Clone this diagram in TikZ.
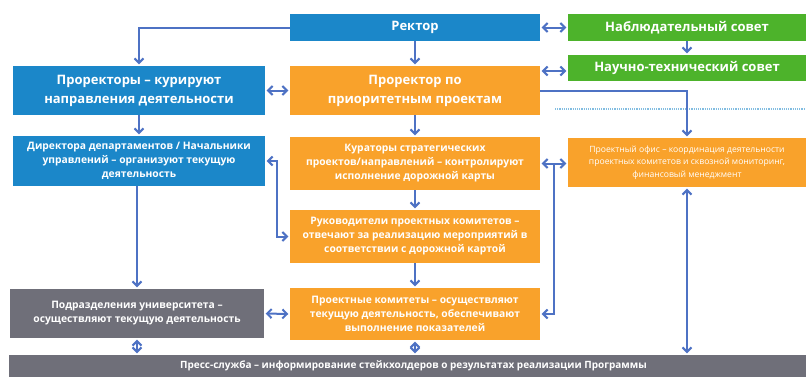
\documentclass[tikz,border=0pt]{standalone}
\usepackage{fontspec}
\setmainfont{Open Sans}
\usepackage{tikz}
\usetikzlibrary{arrows.meta,positioning,calc}

\definecolor{univblue}{HTML}{1B87C9}
\definecolor{univorange}{HTML}{F9A22B}
\definecolor{univgreen}{HTML}{4DB32B}
\definecolor{univgray}{HTML}{6F6F79}
\definecolor{linkblue}{HTML}{4E72C4}

\begin{document}
\begin{tikzpicture}[
  x=1pt, y=-1pt,
  box/.style={align=center, text=white, inner sep=2pt, font=\bfseries},
  bigtext/.style={font=\fontsize{13}{19}\selectfont\bfseries},
  smalltext/.style={font=\fontsize{10.3}{14}\selectfont\bfseries},
  bluebox/.style={box, fill=univblue},
  orangebox/.style={box, fill=univorange},
  greenbox/.style={box, fill=univgreen},
  graybox/.style={box, fill=univgray},
  link/.style={-{Straight Barb[length=4.5pt,width=9pt]}, line width=2pt, draw=linkblue, shorten >=1.5pt},
  twoway/.style={link, {Straight Barb[length=4.5pt,width=9pt]}-{Straight Barb[length=4.5pt,width=9pt]}, shorten <=1.5pt}
]
\useasboundingbox (0,0) rectangle (806,376);

% top row
\node[bluebox, bigtext, minimum width=250pt, minimum height=27pt] (rector) at (415,27.5) {Ректор};
\node[greenbox, bigtext, minimum width=238pt, minimum height=27pt] (supervis) at (687,27.5) {Наблюдательный совет};
\node[greenbox, bigtext, minimum width=238pt, minimum height=26pt] (scitech) at (687,68) {Научно-технический совет};

% second row
\node[bluebox, bigtext, minimum width=252pt, minimum height=49pt] (vicerect) at (139,90.5) {Проректоры – курируют\\направления деятельности};
\node[orangebox, bigtext, minimum width=250pt, minimum height=49pt] (vicepri) at (415,90.5) {Проректор по\\приоритетным проектам};

% third row
\node[bluebox, smalltext, minimum width=252pt, minimum height=50pt] (directors) at (139,161) {Директора департаментов / Начальники\\управлений – организуют текущую\\деятельность};
\node[orangebox, smalltext, minimum width=250pt, minimum height=53pt] (curators) at (415,163.5) {Кураторы стратегических\\проектов/направлений – контролируют\\исполнение дорожной карты};
\node[orangebox, font=\fontsize{8.6}{12.5}\selectfont, minimum width=238pt, minimum height=49pt] (office) at (687,162.5) {Проектный офис – координация деятельности\\проектных комитетов и сквозной мониторинг,\\финансовый менеджмент};

% lower rows
\node[orangebox, smalltext, minimum width=250pt, minimum height=53pt] (heads) at (415,236.5) {Руководители проектных комитетов –\\отвечают за реализацию мероприятий в\\соответствии с дорожной картой};
\node[graybox, smalltext, minimum width=254pt, minimum height=49pt] (units) at (137,313.5) {Подразделения университета –\\осуществляют текущую деятельность};
\node[orangebox, smalltext, minimum width=250pt, minimum height=52pt] (committees) at (415,314) {Проектные комитеты – осуществляют\\текущую деятельность, обеспечивают\\выполнение показателей};
\node[graybox, font=\fontsize{10}{12}\selectfont\bfseries, minimum width=797pt, minimum height=22pt] (press) at (407.5,366) {\hspace*{12pt}Пресс-служба – информирование стейкхолдеров о результатах реализации Программы};

\draw[densely dotted, line width=1.2pt, draw=univblue!55] (555,109) -- (806,109);

% connectors
\draw[link] (rector.west) -| (vicerect.north);
\draw[twoway] (rector.east) -- (supervis.west);
\draw[link] (supervis.south) -- (scitech.north);
\draw[link] (rector.south) -- (vicepri.north);
\draw[twoway] (vicerect.east) -- (vicepri.west);
\draw[twoway] (scitech.west -| vicepri.east) ++(0,3) -- ($(scitech.west)+(0,3)$);
\draw[link] (vicepri.east) -| (office.north);
\draw[link] (vicerect.south) -- (directors.north);
\draw[link] (vicepri.south) -- (curators.north);
\draw[twoway] (directors.east) -- ++(12,0) |- (heads.west);
\draw[link] (curators.south) -- (heads.north);
\draw[twoway] (curators.east) -- (curators.east -| office.west);
\coordinate (split) at ($(curators.east)!0.5!(curators.east -| office.west)$);
\draw[link] (split) |- (committees.east);
\draw[link] (heads.south) -- (committees.north);
\draw[link] (directors.south -| units.north) -- (units.north);
\draw[twoway] (units.east) -- (committees.west);
\draw[twoway] (units.south) -- (units.south |- press.north);
\draw[twoway] (committees.south) -- (committees.south |- press.north);
\draw[twoway] (office.south) -- (office.south |- press.north);
\end{tikzpicture}
\end{document}
